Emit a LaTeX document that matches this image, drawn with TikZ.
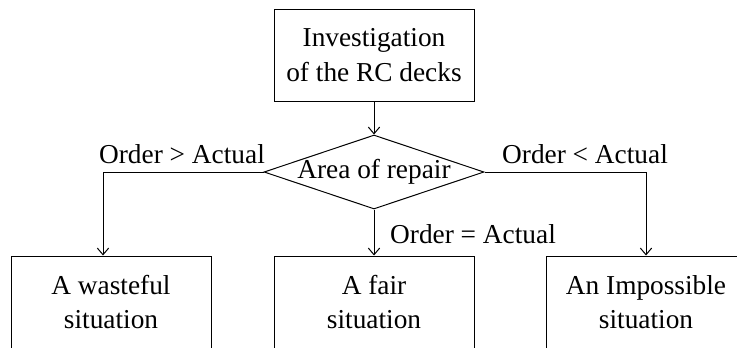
\documentclass[tikz,border=0pt]{standalone}
\usepackage{fontspec}
\setmainfont{Liberation Serif}
\usetikzlibrary{arrows.meta,shapes.geometric}

\tikzset{every picture/.style={line width=0.75pt}}
\tikzset{
  stepbox/.style={draw, rectangle, minimum width=150pt, minimum height=69pt, inner sep=0pt, align=center},
  decision/.style={draw, diamond, minimum width=165pt, minimum height=55.5pt, inner sep=0pt},
  lbl/.style={anchor=base, inner sep=0.75pt},
  arr/.style={-{Straight Barb[length=5pt,width=8.5pt]}},
}

\begin{document}
\begin{tikzpicture}[x=0.75pt,y=0.75pt,yscale=-1,xscale=1,font=\fontsize{20.5}{26}\selectfont]
%set diagram left start at 0, and has height of 347
\useasboundingbox (0,0) rectangle (737,347);
\clip (0,0) rectangle (737,347);

%Shape: Rectangle [id:inv]
\node[stepbox] (inv) at (374,55) {Investigation\\of the RC decks};
%Shape: Diamond [id:area]
\node[decision] (area) at (374,172) {\makebox[0pt]{Area of repair}};
%Shape: Rectangle [id:waste]
\node[stepbox] (waste) at (111,302) {A wasteful\\situation};
%Shape: Rectangle [id:fair]
\node[stepbox] (fair) at (374,302) {A fair\\situation};
%Shape: Rectangle [id:imp]
\node[stepbox] (imp) at (646,302) {An Impossible\\situation};

%Straight Lines [id:arrows]
\draw[arr] (inv.south) -- (area.north);
\draw[arr] (area.west) -| ([xshift=-6pt]waste.north);
\draw[arr] (area.south) -- (fair.north);
\draw[arr] (area.east) -| (imp.north);

% Text Node
\node[lbl] (gt) at (182,163) {Order > Actual};
% Text Node
\node[lbl] (lt) at (585,163) {Order < Actual};
% Text Node
\node[lbl] (eq) at (473,243) {Order = Actual};

\end{tikzpicture}
\end{document}
